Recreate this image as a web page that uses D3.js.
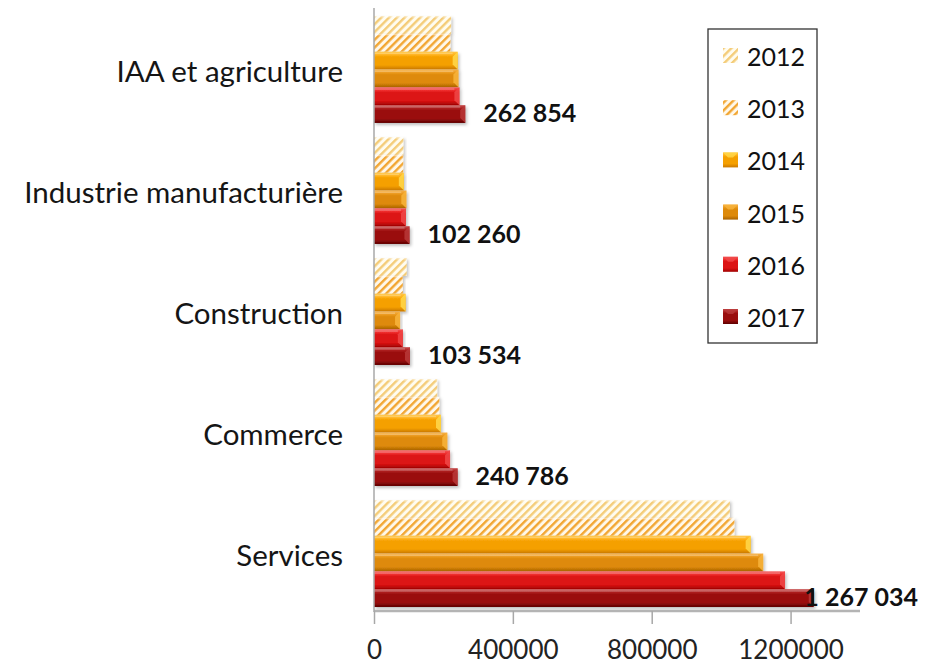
<!DOCTYPE html>
<html><head><meta charset="utf-8">
<script src="https://cdn.jsdelivr.net/npm/d3@7"></script>
<style>
html,body{margin:0;padding:0;background:#fff;}
svg{display:block;}
text{font-family:Lato,"Open Sans",sans-serif;}
</style></head>
<body>
<svg id="chart" width="932" height="667"></svg>
<script>
// ---- data ----
const categories = ["IAA et agriculture","Industrie manufacturière","Construction","Commerce","Services"];
const years = ["2012","2013","2014","2015","2016","2017"];
const v2012 = [222000, 84500, 94000, 182000, 1025000];
const v2013 = [220000, 84000, 83000, 188000, 1038000];
const v2014 = [241000, 86000, 91000, 193000, 1085000];
const v2015 = [243000, 93000, 75000, 211000, 1121000];
const v2016 = [246000, 92000, 83000, 219000, 1184000];
const v2017 = [262854, 102260, 103534, 240786, 1267034];
const labels2017 = ["262 854","102 260","103 534","240 786","1 267 034"];
const xTicks = [0, 400000, 800000, 1200000];
const xMax = 1400000;

const seriesValues = [v2012, v2013, v2014, v2015, v2016, v2017];

// ---- styles ----
const solid = {
  "2014": {top:"#ffc84a", hi:"#ffb21a", base:"#f5a000", bot:"#c97800", tip:"#ffd84a"},
  "2015": {top:"#f6b24a", hi:"#eb9a1e", base:"#de8a0a", bot:"#a86200", tip:"#f8b43c"},
  "2016": {top:"#f55a5a", hi:"#ee2c2c", base:"#dc1414", bot:"#a00000", tip:"#f04848"},
  "2017": {top:"#c85050", hi:"#ac2020", base:"#9a0e0e", bot:"#5e0000", tip:"#b83a3a"}
};
const hatch = {"2012": {s:"#f4cc78", b:"#fffcf0"}, "2013": {s:"#f2a632", b:"#fff8ea"}};

const svg = d3.select("#chart");
const defs = svg.append("defs");

years.forEach(y => {
  if (solid[y]) {
    const c = solid[y];
    const g = defs.append("linearGradient").attr("id","g"+y).attr("x1",0).attr("y1",0).attr("x2",0).attr("y2",1);
    [[0,c.top],[0.18,c.hi],[0.3,c.base],[0.75,c.base],[1,c.bot]].forEach(s =>
      g.append("stop").attr("offset",s[0]).attr("stop-color",s[1]));
  } else {
    const p = defs.append("pattern").attr("id","p"+y).attr("patternUnits","userSpaceOnUse")
      .attr("width",5.5).attr("height",5.5).attr("patternTransform","rotate(45)");
    p.append("rect").attr("width",5.5).attr("height",5.5).attr("fill",hatch[y].b);
    p.append("rect").attr("width",2.4).attr("height",5.5).attr("fill",hatch[y].s);
  }
});
const f = defs.append("filter").attr("id","sh").attr("x","-5%").attr("y","-20%").attr("width","115%").attr("height","160%");
f.append("feDropShadow").attr("dx",1.5).attr("dy",2).attr("stdDeviation",1.5).attr("flood-color","#000").attr("flood-opacity",0.25);

const fillFor = y => solid[y] ? `url(#g${y})` : `url(#p${y})`;

// ---- scales ----
const x = d3.scaleLinear().domain([0, xMax]).range([374, 860]);
const yCat = d3.scaleBand().domain(categories).range([12, 611]).paddingInner(0.116).paddingOuter(0.033);
const yYear = d3.scaleBand().domain(years).range([0, yCat.bandwidth()]).padding(0);

// ---- bars ----
const groups = svg.append("g").selectAll("g").data(categories).join("g")
  .attr("transform", d => `translate(0,${yCat(d)})`);

groups.each(function(cat, ci) {
  const g = d3.select(this);
  years.forEach((yr, si) => {
    const val = seriesValues[si][ci];
    const x0 = x(0), x1 = x(val), y0 = yYear(yr), h = yYear.bandwidth();
    const bar = g.append("g").attr("filter", "url(#sh)");
    bar.append("rect").attr("x", x0).attr("y", y0).attr("width", x1 - x0).attr("height", h)
      .attr("fill", fillFor(yr));
    if (solid[yr]) {
      const c = solid[yr];
      const bw = Math.min(5, (x1 - x0) / 3);
      bar.append("polygon")
        .attr("points", `${x1-bw},${y0+h*0.28} ${x1},${y0} ${x1},${y0+h} ${x1-bw},${y0+h*0.72}`)
        .attr("fill", c.tip).attr("opacity", 0.85);
      bar.append("rect").attr("x", x0).attr("y", y0 + 1).attr("width", Math.max(0, x1 - x0 - bw)).attr("height", 1.5)
        .attr("fill", "#fff").attr("opacity", 0.25);
    } else {
      bar.append("rect").attr("x", x0).attr("y", y0).attr("width", x1 - x0).attr("height", 1.5)
        .attr("fill", "#fff").attr("opacity", 0.5);
    }
  });
});

// ---- axes ----
const axisG = svg.append("g").attr("transform", "translate(0,611)")
  .call(d3.axisBottom(x).tickValues(xTicks).tickFormat(d3.format("d")).tickSize(13).tickPadding(17));
axisG.select(".domain").attr("stroke", "#b4b4b4").attr("stroke-width", 2.5).attr("d", `M${x(0)},0H${x(xMax)}`);
axisG.selectAll(".tick line").attr("stroke", "#a8a8a8").attr("stroke-width", 1.5);
axisG.selectAll(".tick text").attr("font-size", 26).attr("fill", "#222").attr("font-family", "Lato, sans-serif");

svg.append("line").attr("x1", x(0)).attr("x2", x(0)).attr("y1", 8).attr("y2", 612)
  .attr("stroke", "#a8a8a8").attr("stroke-width", 1.5);

// ---- category labels ----
svg.append("g").selectAll("text").data(categories).join("text")
  .attr("x", 343).attr("y", d => yCat(d) + yCat.bandwidth() / 2 + 1)
  .attr("text-anchor", "end").attr("dominant-baseline", "central")
  .attr("font-size", 29.5).attr("fill", "#151515").text(d => d);

// ---- data labels (2017) ----
const dl = svg.append("g").selectAll("text").data(categories).join("text")
  .attr("y", d => yCat(d) + yYear("2017") + yYear.bandwidth() / 2 - 2)
  .attr("dominant-baseline", "central")
  .attr("font-size", 25).attr("font-weight", "bold").attr("fill", "#111")
  .text((d, i) => labels2017[i]);
dl.each(function(d, i) {
  const t = d3.select(this);
  const w = this.getComputedTextLength();
  let sx = x(v2017[i]) + 18;
  if (sx + w > 918) { t.attr("text-anchor", "end").attr("x", 918); }
  else t.attr("x", sx);
});

// ---- legend ----
const lg = svg.append("g");
lg.append("rect").attr("x", 708).attr("y", 29).attr("width", 109).attr("height", 314)
  .attr("fill", "#fff").attr("stroke", "#333").attr("stroke-width", 1.3);
const legY = d3.scalePoint().domain(years).range([56, 317]);
years.forEach(yr => {
  const cy = legY(yr);
  lg.append("rect").attr("x", 723).attr("y", cy - 8).attr("width", 15).attr("height", 15)
    .attr("fill", fillFor(yr));
  if (solid[yr]) {
    lg.append("polygon").attr("points", `${723},${cy-8} ${738},${cy-8} ${733},${cy-3} ${728},${cy-3}`)
      .attr("fill", solid[yr].tip).attr("opacity", 0.8);
  }
  lg.append("text").attr("x", 747).attr("y", cy).attr("dominant-baseline", "central")
    .attr("font-size", 25).attr("fill", "#111").text(yr);
});
</script>
</body></html>
